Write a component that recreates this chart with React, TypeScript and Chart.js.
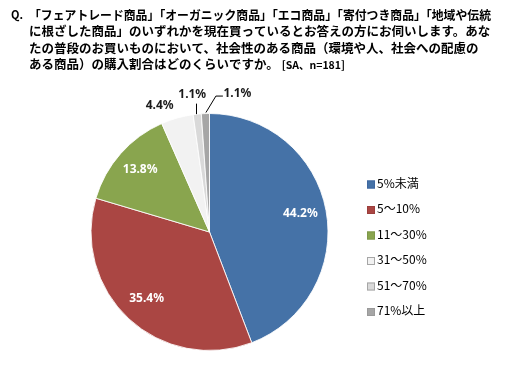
import React, { useEffect, useRef } from "react";
import { Chart, registerables } from "chart.js";

Chart.register(...registerables);

const categories = ["5%未満", "5～10%", "11～30%", "31～50%", "51～70%", "71%以上"];
const shares = [44.2, 35.4, 13.8, 4.4, 1.1, 1.1];
const sliceColors = ["#4572A7", "#AA4643", "#89A54E", "#F2F2F2", "#D9D9D9", "#A6A6A6"];
const legendBorders = ["#3F67A0", "#9C3F3C", "#7E984A", "#A6A6A6", "#A6A6A6", "#9A9A9A"];
const titleLines = [
  "「フェアトレード商品」「オーガニック商品」「エコ商品」「寄付つき商品」「地域や伝統",
  "に根ざした商品」のいずれかを現在買っているとお答えの方にお伺いします。あな",
  "たの普段のお買いものにおいて、社会性のある商品（環境や人、社会への配慮の",
  "ある商品）の購入割合はどのくらいですか。",
];
const titlePrefix = "Q.";
const titleSuffix = "[SA、n=181]";

const JP = '"Noto Sans CJK JP", "Noto Sans", sans-serif';

const titlePlugin = {
  id: "titleText",
  afterDraw(chart: any) {
    const ctx = chart.ctx;
    ctx.save();
    ctx.fillStyle = "#000000";
    ctx.textBaseline = "middle";
    ctx.textAlign = "left";
    ctx.font = `bold 11px ${JP}`;
    ctx.fillText(titlePrefix, 11, 15);
    const x0 = 29;
    const y0 = 15;
    const lh = 16.5;
    titleLines.forEach((line, i) => {
      ctx.font = `bold 12.5px ${JP}`;
      ctx.fillText(line, x0, y0 + i * lh, 462);
      if (i === titleLines.length - 1) {
        const w = ctx.measureText(line).width;
        ctx.font = `bold 10.5px ${JP}`;
        ctx.fillText(titleSuffix, x0 + w + 3, y0 + i * lh + 0.5);
      }
    });
    ctx.restore();
  },
};

const legendPlugin = {
  id: "sideLegend",
  afterDraw(chart: any) {
    const ctx = chart.ctx;
    const labels = chart.data.labels as string[];
    const colors = chart.data.datasets[0].backgroundColor as string[];
    ctx.save();
    ctx.font = `12px ${JP}`;
    ctx.textBaseline = "middle";
    ctx.textAlign = "left";
    labels.forEach((lab, i) => {
      const cy = 184.5 + i * 25.5;
      ctx.fillStyle = colors[i];
      ctx.fillRect(367, cy - 4, 8, 8);
      ctx.strokeStyle = legendBorders[i];
      ctx.lineWidth = 1;
      ctx.strokeRect(367.5, cy - 3.5, 7, 7);
      ctx.fillStyle = "#000000";
      ctx.fillText(lab, 377, cy - 1.5);
    });
    ctx.restore();
  },
};

const labelPlugin = {
  id: "sliceLabels",
  afterDatasetsDraw(chart: any) {
    const ctx = chart.ctx;
    const meta = chart.getDatasetMeta(0);
    const values = chart.data.datasets[0].data as number[];
    ctx.save();
    ctx.font = `bold 12px "Noto Sans", sans-serif`;
    ctx.textBaseline = "middle";
    meta.data.forEach((arc: any, i: number) => {
      const { x, y, startAngle, endAngle, outerRadius } = arc.getProps(
        ["x", "y", "startAngle", "endAngle", "outerRadius"],
        true
      );
      const mid = (startAngle + endAngle) / 2;
      const text = values[i].toFixed(1) + "%";
      if (values[i] >= 10) {
        const r = outerRadius * 0.78;
        ctx.fillStyle = "#FFFFFF";
        ctx.textAlign = "center";
        ctx.fillText(text, x + r * Math.cos(mid), y + r * Math.sin(mid) - 1.5);
        return;
      }
      const ex = x + outerRadius * Math.cos(mid);
      const ey = y + outerRadius * Math.sin(mid);
      ctx.fillStyle = "#1A1A1A";
      ctx.strokeStyle = "#000000";
      ctx.lineWidth = 1;
      if (i === 3) {
        const r = outerRadius + 13;
        ctx.textAlign = "right";
        ctx.fillText(text, x + r * Math.cos(mid), y + r * Math.sin(mid));
      } else if (i === 4) {
        ctx.beginPath();
        ctx.moveTo(Math.round(ex) - 0.5, ey);
        ctx.lineTo(Math.round(ex) - 0.5, ey - 10.5);
        ctx.stroke();
        ctx.textAlign = "center";
        ctx.fillText(text, ex - 5, ey - 20);
      } else {
        ctx.beginPath();
        ctx.moveTo(ex + 0.5, ey - 1);
        ctx.lineTo(ex + 10.5, ey - 17.5);
        ctx.lineTo(ex + 17.5, ey - 17.5);
        ctx.stroke();
        ctx.textAlign = "left";
        ctx.fillText(text, ex + 18, ey - 19.5);
      }
    });
    ctx.restore();
  },
};

export default function App() {
  const ref = useRef<HTMLCanvasElement | null>(null);
  useEffect(() => {
    if (!ref.current) return;
    const chart = new Chart(ref.current, {
      type: "pie",
      data: {
        labels: categories,
        datasets: [
          {
            data: shares,
            backgroundColor: sliceColors,
            borderColor: "rgba(255,255,255,0.85)",
            borderWidth: 1,
          },
        ],
      },
      options: {
        animation: false,
        responsive: false,
        maintainAspectRatio: false,
        devicePixelRatio: 1,
        layout: { padding: { left: 90, right: 177, top: 113, bottom: 36 } },
        plugins: {
          legend: { display: false },
          title: { display: false },
          tooltip: { enabled: false },
        },
      },
      plugins: [titlePlugin, legendPlugin, labelPlugin],
    });
    return () => chart.destroy();
  }, []);
  return (
    <div style={{ position: "fixed", left: 0, top: 0, width: 506, height: 387, background: "#ffffff" }}>
      <canvas ref={ref} width={506} height={387} style={{ width: 506, height: 387, display: "block" }} />
    </div>
  );
}
